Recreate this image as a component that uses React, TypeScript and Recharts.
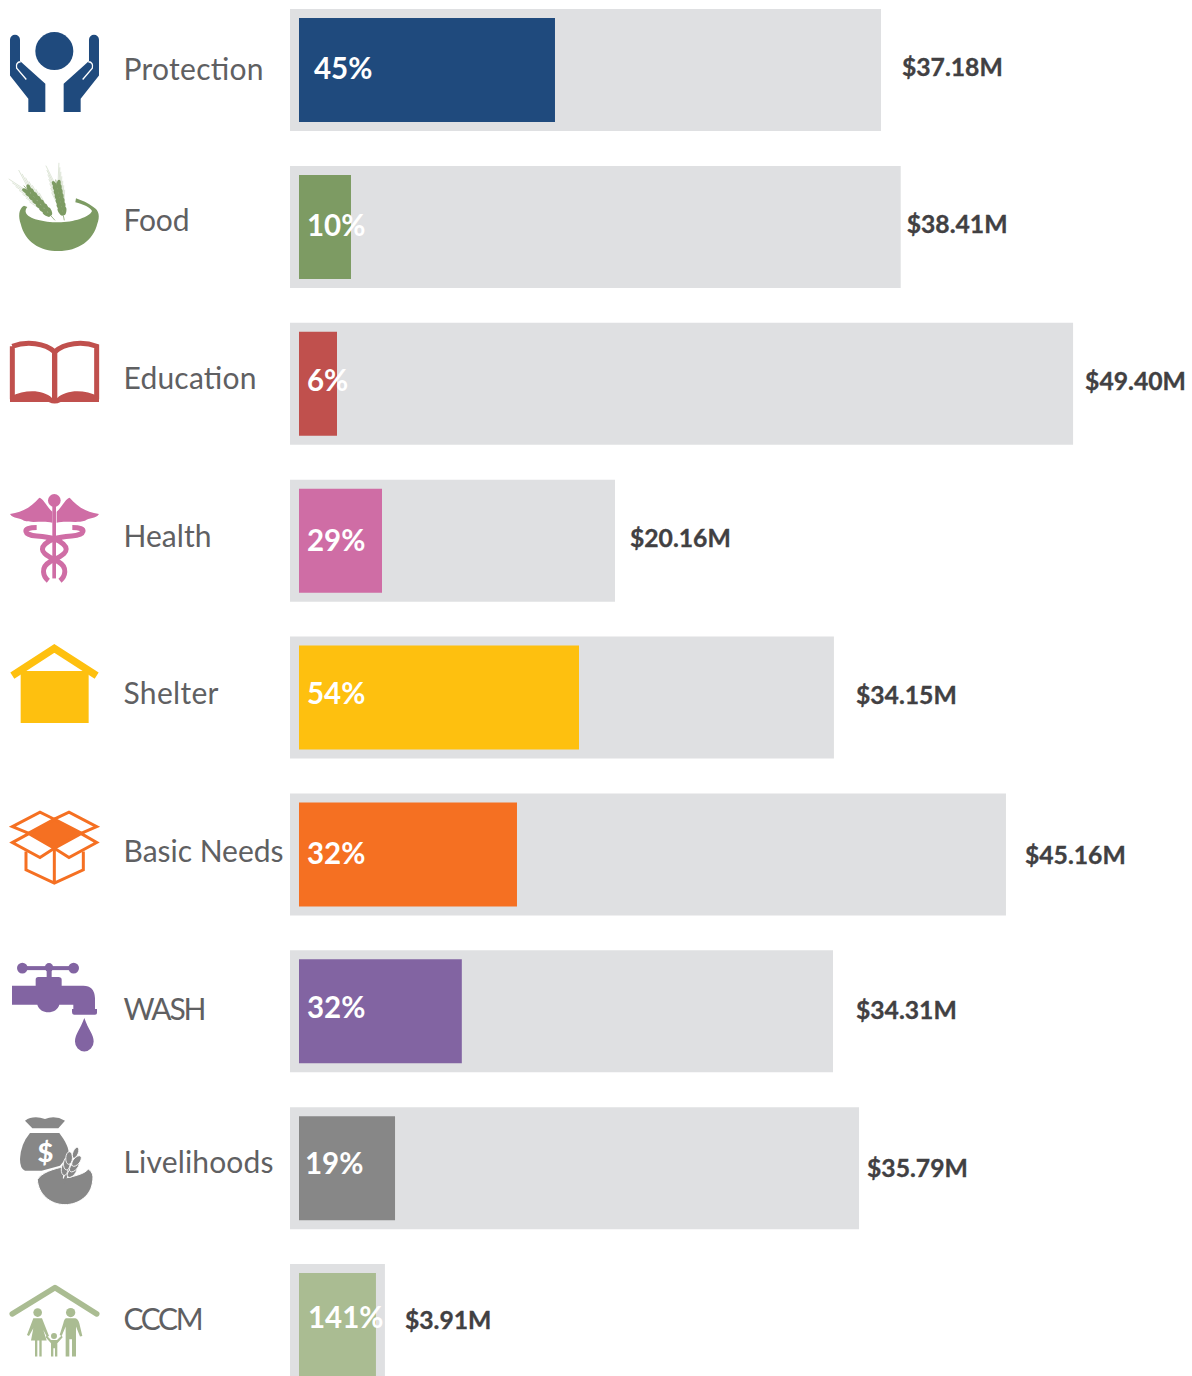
import { Bar, BarChart, Cell, LabelList, XAxis, YAxis } from 'recharts';

const categories = ['Protection', 'Food', 'Education', 'Health', 'Shelter', 'Basic Needs', 'WASH', 'Livelihoods', 'CCCM'];
const budgetLabels = ['$37.18M', '$38.41M', '$49.40M', '$20.16M', '$34.15M', '$45.16M', '$34.31M', '$35.79M', '$3.91M'];
const fundedLabels = ['45%', '10%', '6%', '29%', '54%', '32%', '32%', '19%', '141%'];
// bar lengths as drawn, in $M; the CCCM bar is drawn longer than its label says
const requiredLengths = [37.17, 38.41, 49.25, 20.44, 34.21, 45.03, 34.15, 35.79, 5.97];
const fundedLengths = [16.1, 3.27, 2.39, 5.22, 17.61, 13.71, 10.24, 6.04, 4.84];
const colors = ['#1F4A7D', '#7D9B63', '#C0504D', '#CF6DA5', '#FEC00F', '#F57022', '#8264A2', '#878787', '#AABC92'];

const FUNDED_START = 0.566;
const X_MAX = 56.73;

// hand placed labels, the source has them slightly off in each row
const budgetNudge = [[21, -3], [6, -3], [12, -3], [15, -3], [22, -3], [19, 1], [23, -1], [8, 0], [20, -5]];
const fundedNudge = [[15, -2], [8, -2], [8, -4], [8, -1], [8, -5], [8, -1], [8, -4], [6, -5], [9, -8]];
const categoryNudge = [0, -6, -5, -4, -4, -3, -2, -6, -6];
// Lato runs a bit wider than the source font on some words
const categoryTextWidths = [140, 66, 133, 88, 95, 160, 83, 150, 80];

const data = categories.map((name, i) => ({
  name,
  required: requiredLengths[i],
  funded: [FUNDED_START, FUNDED_START + fundedLengths[i]],
  budget: budgetLabels[i],
  pct: fundedLabels[i],
}));

const FONT = 'Lato, sans-serif';

function Wheat({ x, y, angle, len, color }: { x: number; y: number; angle: number; len: number; color: string }) {
  const grains = [0.22, 0.33, 0.44, 0.55, 0.66, 0.77, 0.88];
  return (
    <g transform={`translate(${x},${y}) rotate(${angle})`}>
      <line x1={0} y1={0} x2={0} y2={-len} stroke={color} strokeWidth={2} />
      {grains.map((g) => (
        <g key={g}>
          <line x1={-4} y1={-len * g} x2={-20} y2={-len * g - 62} stroke={color} strokeWidth={1.5} opacity={0.45} />
          <line x1={4} y1={-len * g} x2={20} y2={-len * g - 62} stroke={color} strokeWidth={1.5} opacity={0.45} />
          <ellipse cx={-6} cy={-len * g} rx={6} ry={13} fill={color} transform={`rotate(-20 -6 ${-len * g})`} />
          <ellipse cx={6} cy={-len * g} rx={6} ry={13} fill={color} transform={`rotate(20 6 ${-len * g})`} />
        </g>
      ))}
    </g>
  );
}

function ProtectionIcon() {
  const hand = 'M30 58 a15 15 0 0 1 30 0 V122 L136 190 V275 H85 V235 L30 165 Z';
  const c = colors[0];
  return (
    <g>
      <circle cx={163} cy={92} r={57} fill={c} />
      <path d={hand} fill={c} />
      <path d={hand} fill={c} transform="translate(327,0) scale(-1,1)" />
      <path d="M79 177 L50 143 Q46 125 62 124" fill="none" stroke="#fff" strokeWidth={4} />
      <path d="M248 177 L277 143 Q281 125 265 124" fill="none" stroke="#fff" strokeWidth={4} />
    </g>
  );
}

function FoodIcon() {
  const c = colors[1];
  return (
    <g>
      <Wheat x={165} y={600} angle={-42} len={140} color={c} />
      <Wheat x={193} y={600} angle={-12} len={125} color={c} />
      <path
        d="M72 556 C55 565 55 590 62 610 C75 665 120 692 175 692 C235 692 280 660 292 610 C300 590 298 570 280 560 C265 548 245 540 228 534 L226 546 C250 552 272 562 276 572 C270 590 220 606 175 606 C130 606 85 595 78 578 C75 570 78 565 82 560 Z"
        fill={c}
      />
    </g>
  );
}

function EducationIcon() {
  const c = colors[2];
  return (
    <g>
      <path
        d="M37 48 C80 32 135 38 164 65 C193 38 248 32 290 48 V207 M37 48 V207"
        fill="none"
        stroke={c}
        strokeWidth={15}
      />
      <path
        d="M30 215 V200 C80 175 130 180 156 203 V60 H172 V203 C198 180 250 175 297 200 V215 H182 Q164 225 146 215 Z"
        fill={c}
      />
    </g>
  );
}

function HealthIcon() {
  const c = colors[3];
  return (
    <g>
      <circle cx={163} cy={511} r={19} fill={c} />
      <path
        d="M157 545 C140 530 130 505 118 503 C95 530 70 545 30 552 C40 568 60 562 72 572 C100 580 130 570 157 578 Z"
        fill={c}
      />
      <path
        d="M170 545 C187 530 197 505 209 503 C232 530 257 545 297 552 C287 568 267 562 255 572 C227 580 197 570 170 578 Z"
        fill={c}
      />
      <rect x={157} y={525} width={11} height={220} fill={c} />
      <path
        d="M110 592 C62 592 72 615 110 618 C160 622 175 628 190 642 C215 665 180 680 150 695 C120 712 130 740 145 752 M217 592 C265 592 255 615 215 618 C165 622 150 628 135 642 C112 665 145 680 175 695 C205 712 195 740 180 752"
        fill="none"
        stroke={c}
        strokeWidth={15}
      />
    </g>
  );
}

function ShelterIcon() {
  const c = colors[4];
  return (
    <g>
      <path d="M37 122 L163 40 L290 122" fill="none" stroke={c} strokeWidth={22} />
      <path d="M62 108 H266 V264 H62 Z" fill={c} />
    </g>
  );
}

function BasicNeedsIcon() {
  const c = colors[5];
  return (
    <g fill="none" stroke={c} strokeWidth={9}>
      <path d="M85 595 L163 553 L245 595 L163 640 Z" fill={c} />
      <path d="M85 595 L37 575 L120 532 L163 553" />
      <path d="M245 595 L290 575 L207 532 L163 553" />
      <path d="M85 597 L37 623 L120 668 L163 640" />
      <path d="M245 597 L290 623 L207 668 L163 640" />
      <path d="M78 650 V705 L163 745 L250 705 V650 M163 640 V745" />
    </g>
  );
}

function WashIcon() {
  const c = colors[6];
  return (
    <g fill={c}>
      <rect x={65} y={34} width={157} height={12} />
      <circle cx={67} cy={40} r={16} />
      <circle cx={221} cy={40} r={16} />
      <circle cx={147} cy={38} r={13} />
      <rect x={140} y={40} width={15} height={30} />
      <path d="M36 93 H107 V75 Q107 67 115 67 H175 Q185 67 185 75 V93 H250 Q283 93 285 130 V163 H291 V175 Q291 180 285 180 H222 Q216 180 216 172 V163 H220 V150 H178 C170 180 120 180 112 150 H36 Z" />
      <path d="M253 190 C240 225 225 240 225 260 A28 30 0 0 0 281 260 C281 240 265 225 253 190 Z" />
    </g>
  );
}

function LivelihoodsIcon() {
  const c = colors[7];
  return (
    <g>
      <path d="M75 495 Q100 478 135 490 Q165 478 195 495 L175 518 H97 Z" fill={c} />
      <path d="M90 532 H178 C195 555 210 580 205 600 L180 630 L125 645 H75 Q60 640 60 610 Q62 565 90 532 Z" fill={c} />
      <text x={136} y={618} fontFamily={FONT} fontWeight={900} fontSize={82} fill="#fff" textAnchor="middle">
        $
      </text>
      <path
        d="M112 672 C125 650 160 640 195 632 L190 668 C215 664 255 655 265 640 C280 650 280 665 278 675 C275 720 235 747 195 747 C150 747 115 715 112 672 Z"
        fill={c}
        stroke="#fff"
        strokeWidth={3}
      />
      <g transform="translate(190,682) rotate(22)" fill={c} stroke="#fff" strokeWidth={2.5}>
        <rect x={-4} y={-50} width={8} height={50} stroke="none" />
        {[-40, -58, -76].map((gy) => (
          <g key={gy}>
            <ellipse cx={-12} cy={gy} rx={10} ry={19} transform={`rotate(-18 -12 ${gy})`} />
            <ellipse cx={12} cy={gy} rx={10} ry={19} transform={`rotate(18 12 ${gy})`} />
          </g>
        ))}
        <ellipse cx={0} cy={-98} rx={8} ry={17} />
      </g>
    </g>
  );
}

function CccmIcon() {
  const c = colors[8];
  return (
    <g fill={c}>
      <path d="M37 112 L165 33 L290 112" fill="none" stroke={c} strokeWidth={17} strokeLinecap="round" strokeLinejoin="round" />
      <circle cx={113} cy={108} r={13} />
      <path d="M100 125 H126 L147 178 L141 181 L130 160 L140 192 H125 V240 H118 V192 H112 V240 H105 V192 H93 L100 155 L87 178 L81 175 Z" />
      <circle cx={212} cy={108} r={14} />
      <path d="M198 125 H226 Q234 127 238 140 L247 178 L240 180 L228 150 V240 H216 V188 H208 V240 H197 V150 L185 178 L179 175 L190 140 Q193 127 198 125 Z" />
      <circle cx={162} cy={178} r={9} />
      <path d="M153 190 H171 L185 177 L188 182 L172 200 V240 H165 V215 H160 V240 H153 V200 L137 182 L140 177 Z" />
    </g>
  );
}

const icons = [ProtectionIcon, FoodIcon, EducationIcon, HealthIcon, ShelterIcon, BasicNeedsIcon, WashIcon, LivelihoodsIcon, CccmIcon];
// icon drawings are in 3x crop coordinates, this is the row centre in each
const iconCentres = [150, 621, 162, 633, 189, 660, 171, 639, 147];

function CategoryTick({ y, payload, index }: any) {
  const Icon = icons[index];
  return (
    <g>
      <g transform={`translate(0,${y}) scale(0.3333) translate(0,${-iconCentres[index]})`}>
        <Icon />
      </g>
      <text
        x={123.5}
        y={y + 10 + categoryNudge[index]}
        fontFamily={FONT}
        fontSize={30}
        textLength={categoryTextWidths[index]}
        lengthAdjust="spacing"
        fill="#5F6062"
      >
        {payload.value}
      </text>
    </g>
  );
}

function BudgetLabel({ x, y, width, height, value, index }: any) {
  const [dx, dy] = budgetNudge[index];
  return (
    <text
      x={x + width + dx}
      y={y + height / 2 + dy + 9}
      fontFamily={FONT}
      fontWeight={700}
      fontSize={24.7}
      fill="#414042"
      stroke="#414042"
      strokeWidth={0.35}
    >
      {value}
    </text>
  );
}

function FundedLabel({ x, y, height, value, index }: any) {
  const [dx, dy] = fundedNudge[index];
  return (
    <text x={x + dx} y={y + height / 2 + dy + 11} fontFamily={FONT} fontWeight={700} fontSize={29.5} fill="#fff">
      {value}
    </text>
  );
}

export default function App() {
  return (
    <div style={{ position: 'absolute', left: 0, top: 0, width: 1192, height: 1376, overflow: 'hidden', background: '#fff' }}>
      <div style={{ position: 'absolute', left: 0, top: -8.5 }}>
        <BarChart
          width={1192}
          height={1412}
          data={data}
          layout="vertical"
          margin={{ top: 0, right: 0, bottom: 0, left: 0 }}
        >
          <XAxis type="number" domain={[0, X_MAX]} hide />
          <YAxis
            yAxisId="required"
            type="category"
            dataKey="name"
            width={290}
            axisLine={false}
            tickLine={false}
            interval={0}
            tick={<CategoryTick />}
          />
          <YAxis yAxisId="funded" type="category" dataKey="name" hide />
          <Bar yAxisId="required" dataKey="required" fill="#DFE0E2" barSize={122} isAnimationActive={false}>
            <LabelList dataKey="budget" content={<BudgetLabel />} />
          </Bar>
          <Bar yAxisId="funded" dataKey="funded" barSize={104} isAnimationActive={false}>
            {colors.map((c) => (
              <Cell key={c} fill={c} />
            ))}
            <LabelList dataKey="pct" content={<FundedLabel />} />
          </Bar>
        </BarChart>
      </div>
    </div>
  );
}
